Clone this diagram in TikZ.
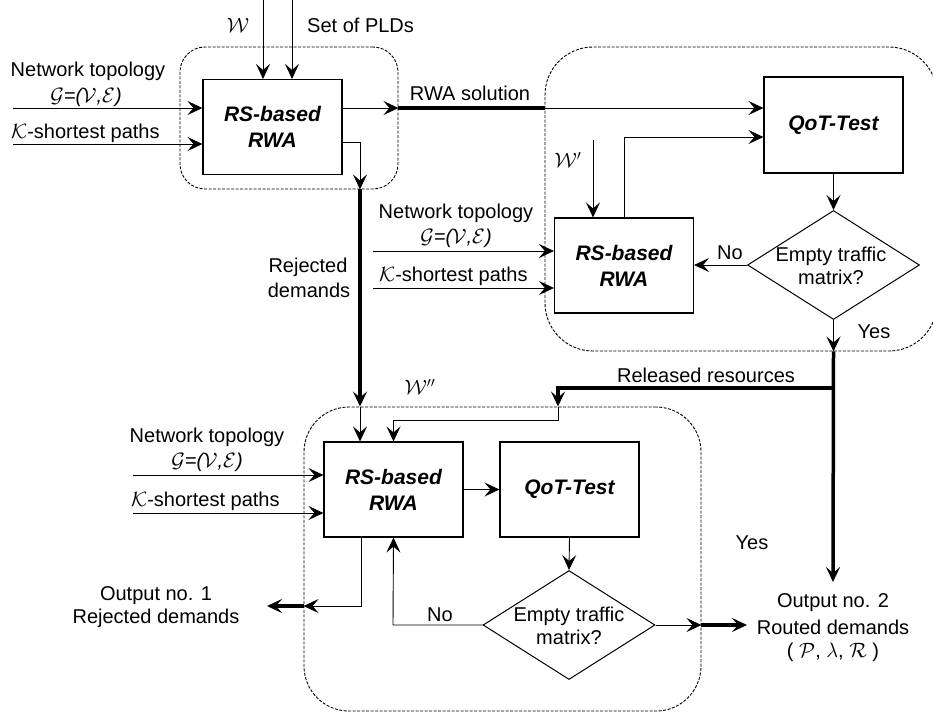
\documentclass[tikz,border=0pt]{standalone}
\usepackage{fontspec}
\setmainfont{Liberation Sans}
\usetikzlibrary{arrows.meta,shapes.geometric}
\begin{document}
\begin{tikzpicture}[x=1pt,y=-1pt,
  every node/.style={font=\fontsize{20}{24}\selectfont,inner sep=1pt},
  proc/.style={draw,line width=1.1pt,minimum width=139pt,minimum height=95pt,inner sep=0pt,
    font=\fontsize{21}{26}\selectfont\bfseries\itshape,align=center},
  dec/.style={draw,diamond,line width=1pt,inner sep=0pt,minimum width=172pt,minimum height=109pt},
  group/.style={draw,dash pattern=on 3pt off 1.5pt,line width=0.9pt,inner sep=0pt},
  ar/.style={-{Stealth[length=15pt,width=14pt,inset=6pt]},line width=0.9pt},
  fat/.style={line width=3.5pt},
  fatar/.style={-{Stealth[length=15pt,width=14pt,inset=6pt]},line width=3.5pt},
  cal/.style={font=\fontsize{20}{24}\selectfont\itshape}]
\useasboundingbox (0,0) rectangle (933,713);

% groups
\node[group,rounded corners=25pt,minimum width=218pt,minimum height=142pt] (g1) at (289,118) {};
\node[group,rounded corners=48pt,minimum width=392pt,minimum height=304pt] (g2) at (741,199) {};
\node[group,rounded corners=45pt,minimum width=397pt,minimum height=304pt] (g3) at (502.5,559) {};

% blocks
\node[proc] (r1) at (272.5,127) {RS-based\\RWA};
\node[proc,minimum height=96pt] (q2) at (833.5,125) {QoT-Test};
\node[proc] (r2) at (624,265.5) {RS-based\\RWA};
\node[dec] (d1) at (833.5,265) {};
\node at (831,266) [align=center,font=\fontsize{20}{23}\selectfont] (d1t) {Empty traffic\\matrix?};
\node[proc] (r3) at (393.5,489.5) {RS-based\\RWA};
\node[proc] (q3) at (569.5,489.5) {QoT-Test};
\node[dec] (d2) at (569,625) {};
\node at (569,626) [align=center,font=\fontsize{20}{23}\selectfont] (d2t) {Empty traffic\\matrix?};

% free ends
\coordinate (wtop) at (263,0);
\coordinate (ptop) at (292,0);
\coordinate (nt1) at (13,108);
\coordinate (k1) at (13,144);
\coordinate (rj) at (360,142);
\coordinate (wp) at (593,140);
\coordinate (up2) at (624,137);
\coordinate (nt2) at (373,251);
\coordinate (k2) at (373,288);
\coordinate (rr) at (558,388);
\coordinate (rr2) at (558,420);
\coordinate (nt3) at (133,475);
\coordinate (k3) at (133,513);
\coordinate (lp) at (393,625);
\coordinate (ob) at (361,606);
\coordinate (o1) at (267,606);
\coordinate (o2) at (747,625);
\coordinate (o2v) at (833,582);

% top block connectors
\draw[ar] (wtop) -- (wtop |- r1.north);
\draw[ar] (ptop) -- (ptop |- r1.north);
\draw[ar] (nt1) -- (nt1 -| r1.west);
\draw[ar] (k1) -- (k1 -| r1.west);
\draw[ar] (r1.east |- nt1) -- (g1.east |- nt1);
\draw[fat] (g1.east |- nt1) -- (g2.west |- nt1);
\draw[ar] (g2.west |- nt1) -- (q2.west |- nt1);
\draw[ar] (r1.east |- rj) -- (rj) -- (rj |- g1.south);
\draw[fatar] (rj |- g1.south) -- (rj |- g3.north);
\draw[ar] (rj |- g3.north) -- (rj |- r3.north);

% second group
\draw[ar] (wp) -- (wp |- r2.north);
\draw[ar] (r2.north) -- (up2) -- (q2.west |- up2);
\draw[ar] (nt2) -- (nt2 -| r2.west);
\draw[ar] (k2) -- (k2 -| r2.west);
\draw[ar] (q2.south) -- (d1.north);
\draw[ar] (d1.west) -- (r2.east |- d1.west);
\draw[ar] (d1.south) -- (d1.south |- g2.south);
\draw[fatar] (d1.south |- g2.south) -- (o2v);
\draw[fatar] (d1.south |- rr) -- (rr) -- (rr |- g3.north);
\draw[ar] (rr |- g3.north) -- (rr2) -- (r3.north |- rr2) -- (r3.north);

% third group
\draw[ar] (nt3) -- (nt3 -| r3.west);
\draw[ar] (k3) -- (k3 -| r3.west);
\draw[ar] (r3.east) -- (q3.west);
\draw[ar] (q3.south) -- (d2.north);
\draw[ar] (d2.west) -- (lp) -- (r3.south);
\draw[ar] (ob |- r3.south) -- (ob) -- (g3.west |- ob);
\draw[fatar] (g3.west |- ob) -- (o1);
\draw[ar] (d2.east) -- (g3.east |- d2.east);
\draw[fatar] (g3.east |- d2.east) -- (o2);

% labels
\node (lw) at (238,25) {$\mathcal{W}$};
\node[anchor=west] (lpld) at (306,25) {Set of PLDs};
\node (lnt1) at (88,71) {Network topology};
\node[cal] (lg1) at (86,97) {$\mathcal{G}$=($\mathcal{V}$,$\mathcal{E}$)};
\node[anchor=west] (lk1) at (10,133) {$\mathcal{K}$-shortest paths};
\node (lsol) at (470,93) {RWA solution};
\node (lnt2) at (456,213) {Network topology};
\node[cal] (lg2) at (456,238) {$\mathcal{G}$=($\mathcal{V}$,$\mathcal{E}$)};
\node[anchor=west] (lk2) at (378,276) {$\mathcal{K}$-shortest paths};
\node (lwp) at (568,160) {$\mathcal{W}'$};
\node (lno1) at (730,253) {No};
\node (lyes1) at (874,332) {Yes};
\node (lrej) at (308,267) {Rejected};
\node (lrej2) at (309,290) {demands};
\node (lrel) at (706,375) {Released resources};
\node (lwpp) at (420,387) {$\mathcal{W}''$};
\node (lnt3) at (207,437) {Network topology};
\node[cal] (lg3) at (207,462) {$\mathcal{G}$=($\mathcal{V}$,$\mathcal{E}$)};
\node[anchor=west] (lk3) at (130,501) {$\mathcal{K}$-shortest paths};
\node (lout1) at (156,596) {Output no. 1};
\node (lout1b) at (156,618) {Rejected demands};
\node (lno2) at (440,615) {No};
\node (lyes2) at (752,543) {Yes};
\node (lout2) at (833,603) {Output no. 2};
\node (lout2b) at (833,627) {Routed demands};
\node (lout2c) at (833,652) {( $\mathcal{P}$, $\lambda$, $\mathcal{R}$ )};
\end{tikzpicture}
\end{document}
